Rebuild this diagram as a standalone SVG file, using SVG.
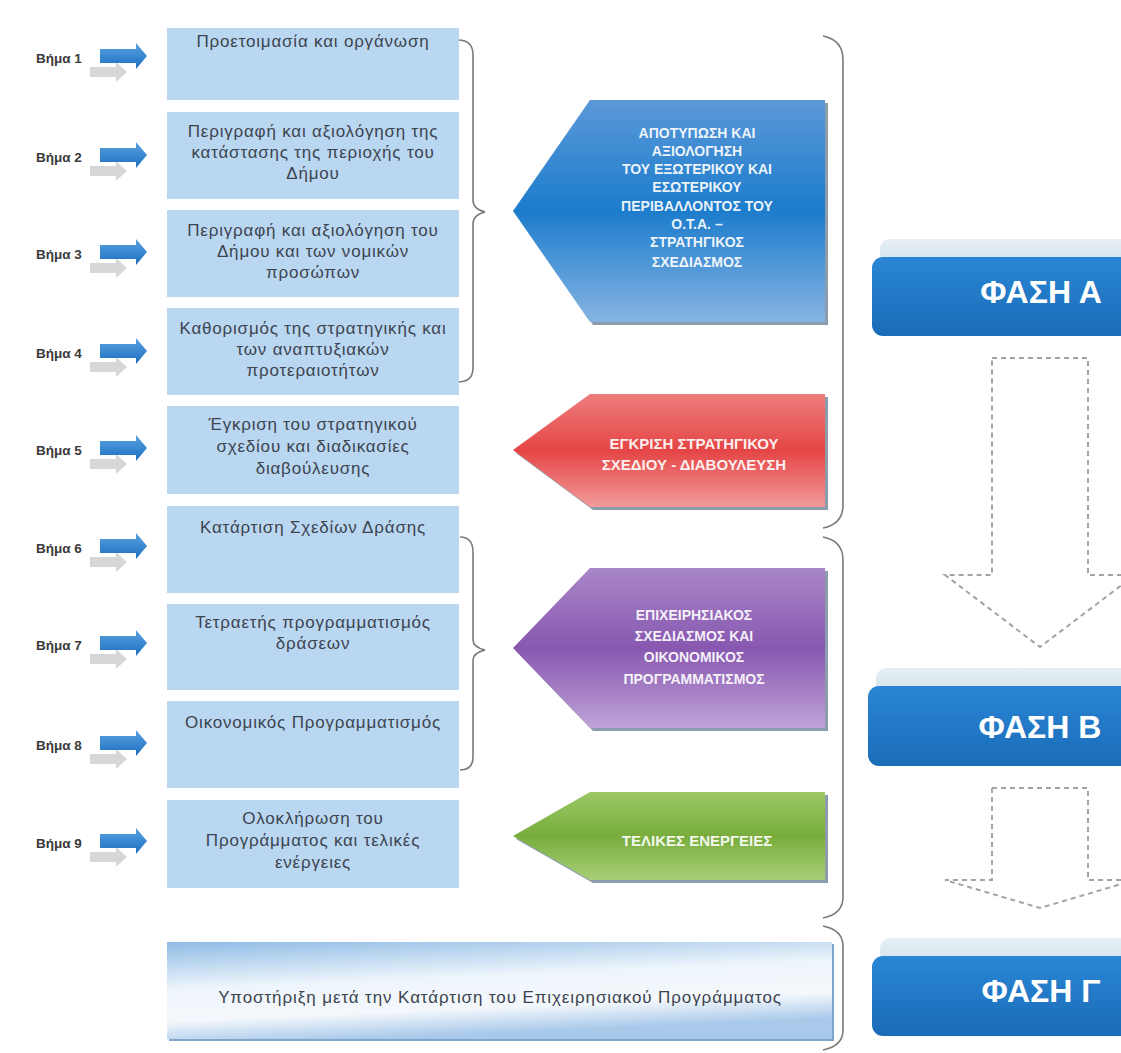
<svg xmlns="http://www.w3.org/2000/svg" width="1121" height="1053" viewBox="0 0 1121 1053">
<defs>
<linearGradient id="gArrow" x1="0" y1="0" x2="0" y2="1"><stop offset="0" stop-color="#5ba3e2"/><stop offset="1" stop-color="#1b6ebf"/></linearGradient>
<linearGradient id="gBlue" x1="0" y1="0" x2="0" y2="1"><stop offset="0" stop-color="#5b98d8"/><stop offset="0.5" stop-color="#1c7ccc"/><stop offset="1" stop-color="#86b4e2"/></linearGradient>
<linearGradient id="gRed" x1="0" y1="0" x2="0" y2="1"><stop offset="0" stop-color="#ee7d7d"/><stop offset="0.5" stop-color="#e54545"/><stop offset="1" stop-color="#f29a9a"/></linearGradient>
<linearGradient id="gPurple" x1="0" y1="0" x2="0" y2="1"><stop offset="0" stop-color="#a886c8"/><stop offset="0.5" stop-color="#8858b0"/><stop offset="1" stop-color="#c0a2d8"/></linearGradient>
<linearGradient id="gGreen" x1="0" y1="0" x2="0" y2="1"><stop offset="0" stop-color="#9cc866"/><stop offset="0.5" stop-color="#78ad3c"/><stop offset="1" stop-color="#a8cf78"/></linearGradient>
<linearGradient id="gPhase" x1="0" y1="0" x2="0" y2="1"><stop offset="0" stop-color="#2a86d4"/><stop offset="1" stop-color="#1a6cb8"/></linearGradient>
<linearGradient id="gStrip" x1="0" y1="0" x2="0" y2="1"><stop offset="0" stop-color="#e6eff4"/><stop offset="1" stop-color="#cddfe9"/></linearGradient>
<linearGradient id="gBottom" x1="0" y1="0" x2="0.3" y2="1"><stop offset="0" stop-color="#8fbce6"/><stop offset="0.45" stop-color="#eef5fb"/><stop offset="0.75" stop-color="#f4f8fc"/><stop offset="1" stop-color="#a9c9ea"/></linearGradient>
<g id="stepArrow">
<path d="M-10,11 h26 v-5 l11,10 l-11,10 v-5 h-26 z" fill="#c9c9c9" opacity="0.75"/>
<path d="M0,-7 h36 v-6 l11,13 l-11,13 v-6 h-36 z" fill="url(#gArrow)"/>
</g>
</defs>
<style>
.lbl{font-family:"Liberation Sans",Arial,sans-serif;font-size:13.5px;font-weight:bold;fill:#3a3a3a}
.box{fill:#bad7f1}
.bt{font-family:"Liberation Sans",Arial,sans-serif;font-size:17px;letter-spacing:0.8px;fill:#3c4450;text-anchor:middle}
.pt{font-family:"Liberation Sans",Arial,sans-serif;font-size:14px;font-weight:bold;fill:#ffffff;fill-opacity:0.92;text-anchor:middle}
.shadow{fill:#2d4a66;opacity:0.55}
.brace{fill:none;stroke:#7a7a7a;stroke-width:1.6}
.dash{fill:#ffffff;stroke:#a3a3a3;stroke-width:2;stroke-dasharray:5 4}
.ph{font-family:"Liberation Sans",Arial,sans-serif;font-size:32px;font-weight:bold;fill:#ffffff;text-anchor:middle}
</style>
<rect width="1121" height="1053" fill="#ffffff"/>

<g id="labels">
<text class="lbl" x="36" y="63">Βήμα 1</text>
<text class="lbl" x="36" y="162">Βήμα 2</text>
<text class="lbl" x="36" y="259">Βήμα 3</text>
<text class="lbl" x="36" y="358">Βήμα 4</text>
<text class="lbl" x="36" y="455">Βήμα 5</text>
<text class="lbl" x="36" y="553">Βήμα 6</text>
<text class="lbl" x="36" y="650">Βήμα 7</text>
<text class="lbl" x="36" y="750">Βήμα 8</text>
<text class="lbl" x="36" y="848">Βήμα 9</text>
</g>

<g id="connectors">
<use href="#stepArrow" x="100" y="56"/>
<use href="#stepArrow" x="100" y="155"/>
<use href="#stepArrow" x="100" y="252"/>
<use href="#stepArrow" x="100" y="351"/>
<use href="#stepArrow" x="100" y="448"/>
<use href="#stepArrow" x="100" y="546"/>
<use href="#stepArrow" x="100" y="643"/>
<use href="#stepArrow" x="100" y="743"/>
<use href="#stepArrow" x="100" y="841"/>
<path class="brace" d="M458,40 Q473,40 473,55 L473,200 Q473,209 485,212 Q473,215 473,224 L473,368 Q473,382 458,382"/>
<path class="brace" d="M460,537 Q473,537 473,552 L473,640 Q473,647 485,650 Q473,653 473,660 L473,757 Q473,770 460,770"/>
<path class="brace" d="M823,36 Q843,40 843,60 L843,505 Q843,524 823,528"/>
<path class="brace" d="M823,537 Q843,541 843,560 L843,897 Q843,914 823,918"/>
<path class="brace" d="M823,926 Q843,930 843,946 L843,1030 Q843,1046 823,1050"/>
<path class="dash" d="M992,358 L1088,358 L1088,575 L1135,575 L1040,647 L945,575 L992,575 Z"/>
<path class="dash" d="M992,788 L1088,788 L1088,880 L1135,880 L1040,908 L945,880 L992,880 Z"/>
</g>

<g id="step1"><rect class="box" x="167" y="28" width="292" height="72"/>
<text class="bt" x="313" y="47">Προετοιμασία και οργάνωση</text></g>
<g id="step2"><rect class="box" x="167" y="112" width="292" height="87"/>
<text class="bt" x="313" y="137">Περιγραφή και αξιολόγηση της</text>
<text class="bt" x="313" y="158">κατάστασης της περιοχής του</text>
<text class="bt" x="313" y="179">Δήμου</text></g>
<g id="step3"><rect class="box" x="167" y="210" width="292" height="87"/>
<text class="bt" x="313" y="236">Περιγραφή και αξιολόγηση του</text>
<text class="bt" x="313" y="257">Δήμου και των νομικών</text>
<text class="bt" x="313" y="278">προσώπων</text></g>
<g id="step4"><rect class="box" x="167" y="308" width="292" height="87"/>
<text class="bt" x="313" y="334">Καθορισμός της στρατηγικής και</text>
<text class="bt" x="313" y="355">των αναπτυξιακών</text>
<text class="bt" x="313" y="376">προτεραιοτήτων</text></g>
<g id="step5"><rect class="box" x="167" y="406" width="292" height="88"/>
<text class="bt" x="313" y="430">Έγκριση του στρατηγικού</text>
<text class="bt" x="313" y="452">σχεδίου και διαδικασίες</text>
<text class="bt" x="313" y="474">διαβούλευσης</text></g>
<g id="step6"><rect class="box" x="167" y="506" width="292" height="87"/>
<text class="bt" x="313" y="533">Κατάρτιση Σχεδίων Δράσης</text></g>
<g id="step7"><rect class="box" x="167" y="604" width="292" height="86"/>
<text class="bt" x="313" y="628">Τετραετής προγραμματισμός</text>
<text class="bt" x="313" y="649">δράσεων</text></g>
<g id="step8"><rect class="box" x="167" y="701" width="292" height="87"/>
<text class="bt" x="313" y="728">Οικονομικός Προγραμματισμός</text></g>
<g id="step9"><rect class="box" x="167" y="800" width="292" height="88"/>
<text class="bt" x="313" y="824">Ολοκλήρωση του</text>
<text class="bt" x="313" y="846">Προγράμματος και τελικές</text>
<text class="bt" x="313" y="868">ενέργειες</text></g>

<g id="support">
<rect x="169" y="944" width="665" height="97" fill="#7ea6cc"/>
<rect x="167" y="942" width="665" height="97" fill="url(#gBottom)"/>
<text class="bt" x="500" y="1003" style="font-size:17px;letter-spacing:0.9px">Υποστήριξη μετά την Κατάρτιση του Επιχειρησιακού Προγράμματος</text>
</g>

<g id="phaseA1">
<polygon class="shadow" points="593,103 828,103 828,325 593,325 516,214"/>
<polygon points="590,100 825,100 825,322 590,322 513,211" fill="url(#gBlue)"/>
<text class="pt" x="697" y="138">ΑΠΟΤΥΠΩΣΗ ΚΑΙ</text>
<text class="pt" x="697" y="156">ΑΞΙΟΛΟΓΗΣΗ</text>
<text class="pt" x="697" y="174">ΤΟΥ ΕΞΩΤΕΡΙΚΟΥ ΚΑΙ</text>
<text class="pt" x="697" y="192">ΕΣΩΤΕΡΙΚΟΥ</text>
<text class="pt" x="697" y="211">ΠΕΡΙΒΑΛΛΟΝΤΟΣ ΤΟΥ</text>
<text class="pt" x="697" y="229">Ο.Τ.Α. –</text>
<text class="pt" x="697" y="247">ΣΤΡΑΤΗΓΙΚΟΣ</text>
<text class="pt" x="697" y="267">ΣΧΕΔΙΑΣΜΟΣ</text>
</g>
<g id="phaseA2">
<polygon class="shadow" points="593,397 828,397 828,510 593,510 516,453"/>
<polygon points="590,394 825,394 825,507 590,507 513,450" fill="url(#gRed)"/>
<text class="pt" x="694" y="449" style="font-size:15px">ΕΓΚΡΙΣΗ ΣΤΡΑΤΗΓΙΚΟΥ</text>
<text class="pt" x="694" y="470" style="font-size:15px">ΣΧΕΔΙΟΥ - ΔΙΑΒΟΥΛΕΥΣΗ</text>
</g>
<g id="phaseB1">
<polygon class="shadow" points="593,571 828,571 828,731 593,731 516,651"/>
<polygon points="590,568 825,568 825,728 590,728 513,648" fill="url(#gPurple)"/>
<text class="pt" x="694" y="620">ΕΠΙΧΕΙΡΗΣΙΑΚΟΣ</text>
<text class="pt" x="694" y="641">ΣΧΕΔΙΑΣΜΟΣ ΚΑΙ</text>
<text class="pt" x="694" y="662">ΟΙΚΟΝΟΜΙΚΟΣ</text>
<text class="pt" x="694" y="684">ΠΡΟΓΡΑΜΜΑΤΙΣΜΟΣ</text>
</g>
<g id="phaseB2">
<polygon class="shadow" points="593,795 828,795 828,883 593,883 516,839"/>
<polygon points="590,792 825,792 825,880 590,880 513,836" fill="url(#gGreen)"/>
<text class="pt" x="697" y="846" style="font-size:15px">ΤΕΛΙΚΕΣ ΕΝΕΡΓΕΙΕΣ</text>
</g>

<g id="phaseA">
<rect x="880" y="239" width="280" height="34" rx="10" fill="url(#gStrip)"/>
<rect x="872" y="257" width="290" height="79" rx="11" fill="url(#gPhase)"/>
<text class="ph" x="1041" y="303">ΦΑΣΗ Α</text>
</g>
<g id="phaseB">
<rect x="876" y="668" width="280" height="34" rx="10" fill="url(#gStrip)"/>
<rect x="868" y="686" width="290" height="80" rx="11" fill="url(#gPhase)"/>
<text class="ph" x="1040" y="738">ΦΑΣΗ Β</text>
</g>
<g id="phaseC">
<rect x="880" y="938" width="280" height="34" rx="10" fill="url(#gStrip)"/>
<rect x="872" y="956" width="290" height="80" rx="11" fill="url(#gPhase)"/>
<text class="ph" x="1041" y="1002">ΦΑΣΗ Γ</text>
</g>
</svg>
